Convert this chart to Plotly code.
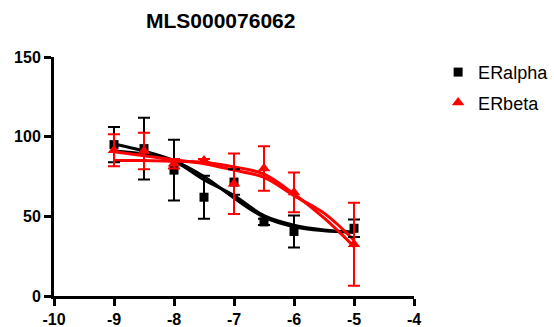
import plotly.graph_objects as go

# Data points (log concentration)
log_conc = [-9, -8.5, -8, -7.5, -7, -6.5, -6, -5]
eralpha_y = [95, 92.5, 79, 62, 71.5, 46.5, 40.5, 42.5]
eralpha_err = [11, 19.4, 19, 13.5, 8, 2, 10, 5.5]
erbeta_y = [91.5, 91, 83, 85, 70.5, 80, 65, 32.5]
erbeta_err = [10, 11.5, 3, 1, 19, 14, 12.5, 26]

# Fitted curves
curve_x = [-9, -8.5, -8, -7.5, -7, -6.5, -6, -5.5, -5]
alpha_fit1 = [95.4, 91, 85, 75, 61.5, 49.5, 43.5, 41, 40]
alpha_fit2 = [91, 89, 84.5, 73, 63, 50.5, 44.5, 41.5, 40]
beta_fit1 = [85, 85, 84.5, 84, 81, 76.5, 64, 49, 31]
beta_fit2 = [90.5, 88, 85.5, 83, 79, 74.5, 63, 52, 35]

x_ticks = [-10, -9, -8, -7, -6, -5, -4]
y_ticks = [0, 50, 100, 150]

BLACK = "#000000"
RED = "#FF0000"
FONT = "Liberation Sans, Arial, sans-serif"

fig = go.Figure()
for ys, col in [(alpha_fit1, BLACK), (alpha_fit2, BLACK), (beta_fit1, RED), (beta_fit2, RED)]:
    fig.add_trace(go.Scatter(x=curve_x, y=ys, mode="lines",
                             line=dict(color=col, width=3, shape="spline", smoothing=1.0),
                             showlegend=False, hoverinfo="skip"))

fig.add_trace(go.Scatter(
    x=log_conc, y=eralpha_y, mode="markers", name="ERalpha", legendgroup="a",
    marker=dict(symbol="square", size=9, color=BLACK),
    error_y=dict(type="data", array=eralpha_err, color=BLACK, thickness=2, width=6)))
fig.add_trace(go.Scatter(
    x=log_conc, y=erbeta_y, mode="markers", name="ERbeta", legendgroup="b",
    marker=dict(symbol="triangle-up", size=11, color=RED),
    error_y=dict(type="data", array=erbeta_err, color=RED, thickness=2, width=6)))

fig.update_layout(
    width=554, height=327,
    margin=dict(l=54, r=140, t=57, b=31, autoexpand=False),
    paper_bgcolor="white", plot_bgcolor="white",
    font=dict(family=FONT, color="black"),
    showlegend=True,
    legend=dict(x=1.067, y=1.013, xanchor="left", yanchor="top", font=dict(size=18, family=FONT),
                tracegroupgap=4, traceorder="grouped", bgcolor="rgba(0,0,0,0)"),
    annotations=[dict(text="<b>MLS000076062</b>", x=(220 - 54) / 360, y=(296 - 20) / 239,
                      xref="paper", yref="paper", xanchor="center", yanchor="middle",
                      showarrow=False, font=dict(size=21, family=FONT))],
)

fig.update_xaxes(range=[-10, -4], tickvals=x_ticks, ticktext=[f"<b>{v}</b>" for v in x_ticks],
                 showline=True, linecolor=BLACK, linewidth=3, ticks="outside", ticklen=7,
                 tickwidth=3, tickcolor=BLACK, showgrid=False, zeroline=False, automargin=False,
                 tickfont=dict(size=16, family=FONT))
fig.update_yaxes(range=[0, 150], tickvals=y_ticks, ticktext=[f"<b>{v}</b>" for v in y_ticks],
                 showline=True, linecolor=BLACK, linewidth=3, ticks="outside", ticklen=7,
                 tickwidth=3, tickcolor=BLACK, showgrid=False, zeroline=False, automargin=False,
                 tickfont=dict(size=16, family=FONT))

fig.write_html("out.html")
